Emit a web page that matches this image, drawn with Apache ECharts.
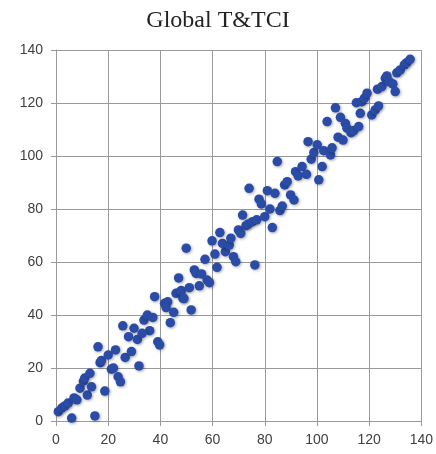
<!DOCTYPE html>
<html>
<head>
<meta charset="utf-8">
<script src="https://cdn.jsdelivr.net/npm/echarts@6/dist/echarts.min.js"></script>
<style>html,body{margin:0;padding:0;background:#fff;}#c{width:436px;height:454px;}</style>
</head>
<body>
<div id="c"></div>
<script>
var titleText = "Global T&TCI";
var xTicks = [0, 20, 40, 60, 80, 100, 120, 140];
var yTicks = [0, 20, 40, 60, 80, 100, 120, 140];
var points = [
[0.9,3.5],[2.2,4.9],[3.4,5.7],[4.7,6.8],[6.9,8.7],[8,8],[6,1.1],[14.9,1.9],[9.2,12.4],[10.5,15],
[11,16.2],[12,9.8],[13,18],[13.6,12.9],[18.7,11.3],[16.1,28],[16.9,22],[17.4,22.8],[20,24.9],[21.2,19.6],
[22,20],[22.8,26.8],[23.8,16.7],[24.7,14.8],[26.5,24],[25.6,35.9],
[29.9,35],[27.8,31.8],[31.2,30.8],[28.9,26.2],[31.8,20.8],[33.7,38.1],[35,40],[37.1,39.1],[35.9,34.1],[33,33.1],
[39,29.9],[39.7,28.7],[37.8,46.9],[41.6,44.4],[42.8,45],[42.2,42.8],[45.1,41],[43.8,37.1],[46,48.2],[47.7,48.8],
[48.6,46.4],[47,54],
[48,49.2],[49,46.2],[51.8,41.9],[51.1,50.3],[54.9,51],[49.9,65.2],[53,57],[53.7,55.7],[55.8,55.5],[57.9,53.2],
[58.8,52.2],[57.1,61],[61.7,58],[60.9,63],[64.9,63.9],[59.8,68],[63.8,67],[66.4,66.4],[67,69],[62.8,71.1],
[68,62],[68.9,60.1],[69.9,72.1],[70.8,70.8],[71.5,77.7],
[72.8,73.7],[73.6,74.3],[75.3,75.2],[76.9,75.9],[76.2,58.9],[74,87.8],[77.8,83.7],[78.7,81.9],[80,77.1],[82,80],
[82.9,73],[81,86.9],[83.9,85.9],[84.8,97.9],[85.8,79.4],[86.7,81.1],[87.6,89.1],[88.6,90.3],[89.9,85.3],[91.2,83.4],
[91.8,94.1],[92.8,92.5],[94.3,96],
[96,93.1],[96.6,105.4],[97.8,98.8],[98.8,101.3],[100.1,104.2],[100.7,91],[102,96],[102.6,102],[105.2,100.4],[105.8,103.1],
[103.9,113],[107.1,118.2],[108.1,107.1],[110,106],[109,114.6],[110.9,112.3],[111.5,110.5],[113,108.8],[114.1,109.6],[116,111.1],
[116.6,116.1],[115.1,120.1],[117.2,120.5],
[118.2,121.8],[119.2,123.7],[121,115.5],[122.3,117.4],[123.6,118.9],[123.2,125.2],[124.9,126.2],[126.2,129.3],[126.8,130.2],[127.8,128],
[129.1,127.2],[130,124.3],[130.6,131.4],[131.9,132.5],[133.5,134.4],[134.4,135.2],[135.7,136.5]
];

var chart = echarts.init(document.getElementById('c'));
var gridColor = '#9a9a9a';
var labelStyle = {color: '#404040', fontSize: 14, fontFamily: 'Liberation Sans, Arial, sans-serif'};
chart.setOption({
  animation: false,
  title: {
    text: titleText, left: 'center', top: 4,
    textStyle: {fontFamily: 'Liberation Serif, DejaVu Serif, serif', fontWeight: 'normal', fontSize: 24, color: '#222'}
  },
  grid: {left: 56, right: 13, top: 50, bottom: 33, containLabel: false},
  xAxis: {
    type: 'value', min: xTicks[0], max: xTicks[xTicks.length-1], interval: 20,
    axisLine: {show: true, lineStyle: {color: gridColor, width: 1}},
    axisTick: {show: true, length: 5, lineStyle: {color: gridColor}},
    axisLabel: Object.assign({margin: 12}, labelStyle),
    splitLine: {show: true, lineStyle: {color: gridColor, width: 1}}
  },
  yAxis: {
    type: 'value', min: yTicks[0], max: yTicks[yTicks.length-1], interval: 20,
    axisLine: {show: true, lineStyle: {color: gridColor, width: 1}},
    axisTick: {show: true, length: 5, lineStyle: {color: gridColor}},
    axisLabel: Object.assign({margin: 13}, labelStyle),
    splitLine: {show: true, lineStyle: {color: gridColor, width: 1}}
  },
  series: [{
    type: 'scatter',
    data: points,
    symbolSize: 9.5,
    itemStyle: {color: '#2a4ca6', opacity: 1, shadowBlur: 3, shadowColor: 'rgba(0,0,0,0.35)', shadowOffsetX: 1, shadowOffsetY: 1}
  }]
});
</script>
</body>
</html>
